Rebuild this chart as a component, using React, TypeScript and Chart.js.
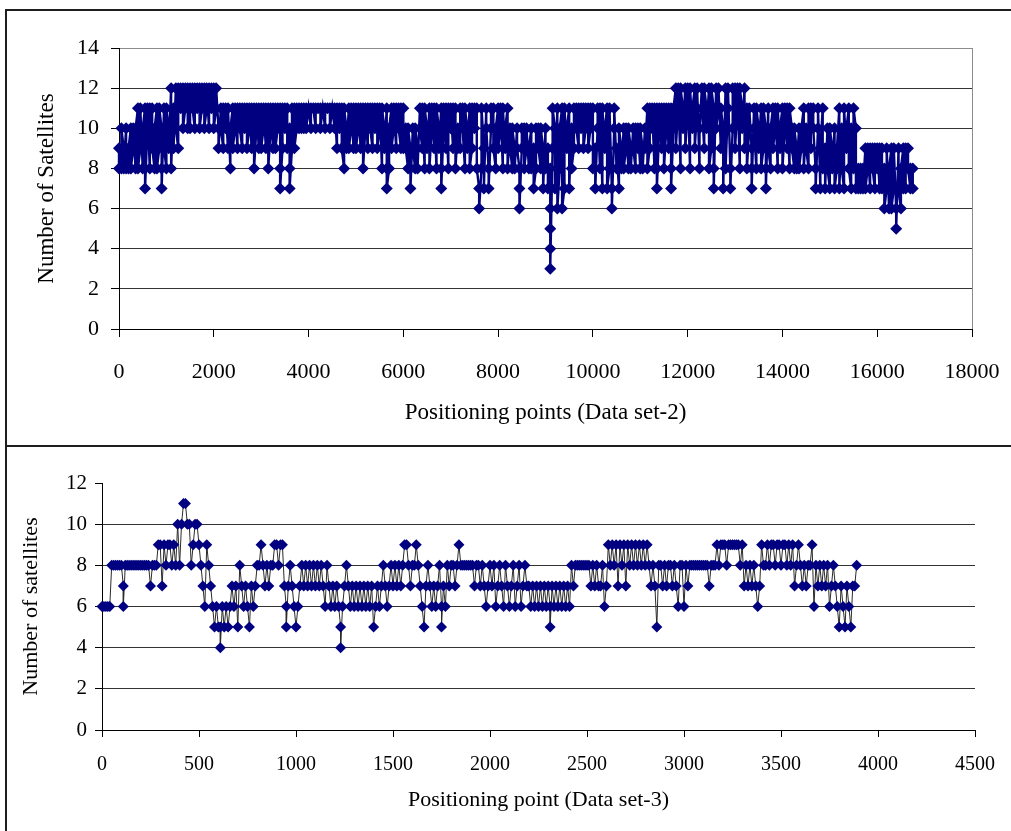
import React, { useEffect, useRef } from 'react';
import { Chart, registerables } from 'chart.js';

Chart.register(...registerables);

// ---------- Data set-2 (top chart): number of satellites ----------
// One entry per TOP_STEP positioning points; an entry that is a list holds the readings
// taken inside that stretch, in order (drawn at the same x, as in the dense original).
type V = number | number[];
const TOP_STEP = 50;
const set2AStart = 0;
const set2A: V[] = [
  [9, 8], [8, 10], [9, 8], [10, 8], [8, 9], [10, 8], [9, 10], [8, 10], [11, 8], [9, 11],
  [8, 10], [11, 8, 7], [10, 11], [8, 11], [11, 9], [8, 10], [11, 8], [9, 11], [10, 8, 7], [11, 9],
  [8, 11], [10, 9], [12, 8], [11, 9], [12, 10], [9, 12], [11, 12], [12, 10], [11, 12], [12, 10],
  [10, 12], [12, 11], [10, 12], [11, 12], [12, 10], [11, 12], [12, 10], [11, 12], [10, 12], [12, 11],
  [12, 10], [11, 12], [10, 9], [11, 10], [9, 11], [10, 11], [9, 11], [8, 10], [11, 9], [10, 11],
  [9, 11], [11, 10], [9, 11], [10, 11], [11, 9], [10, 11], [9, 11], [11, 8], [10, 11], [9, 11],
  [11, 9], [10, 11], [9, 11], [11, 8], [10, 11], [9, 11], [11, 9], [10, 11], [11, 8, 7], [9, 11],
  [10, 11], [11, 9], [10, 8, 7], [9, 11], [11, 9], [10, 11], [11, 10], [10, 11], [11, 10], [11, 10],
  11, [10, 11], 11, [10, 11], 11, [11, 10], 11, [10, 11], 11, [11, 10],
  11, [10, 11], [9, 11], [10, 11], [11, 9], [8, 11], [10, 9], [11, 9], [10, 11], [9, 11],
  [11, 9], [10, 11], [9, 11], [11, 8], [10, 11], [9, 11], [11, 10], [9, 11], [10, 11], [11, 9],
  [10, 11], [8, 11], [10, 9], [11, 8, 7], [8, 10], [11, 9], [10, 11], [9, 11], [11, 10], [9, 11],
];
const set2BStart = 6000;
const set2B: V[] = [
  [11, 9], [10, 9], [8, 10], [9, 8, 7], [10, 9], [8, 10], [9, 8], [11, 10], [9, 11], [8, 11],
  [10, 9], [11, 8], [10, 11], [9, 11], [8, 11], [10, 9], [11, 8, 7], [10, 11], [9, 11], [8, 11],
  [10, 11], [9, 11], [11, 8], [10, 9], [9, 11], [11, 10], [8, 11], [10, 9], [11, 8], [9, 11],
  [10, 11], [11, 8], [7, 6], [8, 11], [9, 7], [11, 10], [8, 7], [10, 11], [11, 9], [8, 10],
  [11, 9], [10, 11], [8, 11], [9, 10], [11, 8], [10, 9], [8, 10], [9, 8], [10, 9], [8, 7, 6],
  [9, 10], [10, 8], [9, 10], [8, 9], [10, 8], [9, 7], [8, 10], [10, 9], [8, 10], [9, 7],
  [10, 8], [9, 7], [8, 6, 5, 4, 3], [9, 11], [10, 7], [11, 6], [8, 10], [11, 6], [7, 11], [9, 10],
  [11, 7], [10, 8], [9, 11], [11, 10], [9, 11], [10, 11], [11, 9], [10, 11], [11, 9], [10, 11],
  [11, 8], [9, 7], [10, 11], [8, 11], [7, 11], [9, 10], [11, 7], [8, 11], [7, 6], [10, 11],
  [8, 9], [7, 10], [9, 8], [10, 8], [9, 10], [8, 10], [9, 8], [10, 9], [8, 10], [9, 10],
  [8, 10], [9, 8], [10, 9], [11, 8], [9, 11], [10, 11], [8, 11], [11, 8, 7], [10, 11], [9, 11],
  [11, 8], [10, 11], [9, 11], [11, 8, 7], [10, 11], [12, 9], [11, 12], [8, 12], [11, 10], [12, 9],
];
const set2CStart = 12000;
const set2C: V[] = [
  [11, 12], [8, 12], [10, 11], [12, 9], [11, 12], [8, 10], [12, 11], [9, 12], [11, 10], [12, 8],
  [9, 12], [11, 8, 7], [12, 10], [11, 12], [9, 11], [10, 7], [12, 8], [11, 12], [8, 7], [10, 12],
  [12, 9], [11, 12], [8, 12], [11, 10], [12, 9], [11, 8], [10, 11], [9, 8, 7], [11, 10], [8, 11],
  [10, 9], [11, 8], [9, 11], [10, 8, 7], [11, 9], [8, 10], [11, 9], [10, 11], [8, 11], [9, 10],
  [11, 8], [10, 11], [9, 11], [8, 11], [10, 9], [8, 10], [9, 8], [10, 8], [9, 10], [11, 8],
  [10, 9], [8, 11], [9, 11], [11, 10], [8, 7], [10, 11], [7, 9], [11, 8], [9, 7], [10, 8],
  [7, 10], [9, 8], [10, 7], [8, 9], [11, 7], [10, 8], [7, 11], [9, 10], [11, 8], [7, 10],
  [8, 11], [10, 7], [8, 7], [7, 8], [8, 7], [9, 7], [8, 9], [7, 9], [9, 8], [7, 9],
  [8, 9], [7, 9], [9, 7], [8, 6], [7, 9], [6, 8], [9, 6], [7, 9], [6, 5], [9, 7],
  [6, 8], [9, 7], [7, 9], [9, 8], [7, 8], [8, 7],
];

// ---------- Data set-3 (bottom chart), one entry every BOTTOM_STEP points ----------
const BOTTOM_STEP = 10;
const set3AStart = 0;
const set3A: V[] = [
  6, 6, 6, 6, 6, 8, 8, 8, 8, 8,
  8, [7, 6], 8, 8, 8, 8, 8, 8, 8, 8,
  8, 8, 8, 8, 8, 7, 8, 8, 8, 9,
  9, 7, 9, 8, 9, 9, 8, 9, 8, 10,
  8, 10, 11, 11, 10, 10, 8, 9, 10, 10,
  9, 8, 7, 6, 9, 8, 7, 6, 5, 6,
  5, [5, 4], 6, 5, 6, 5, 6, 7, 6, 7,
  5, 8, 7, 6, 7, 6, 5, 7, 6, 7,
  8, 8, 9, 8, 7, 8, 7, 8, 8, 9,
  9, 8, 9, 9, 7, [6, 5], 7, 8, 7, 6,
];
const set3BStart = 1000;
const set3B: V[] = [
  5, 6, 7, 8, 7, 8, 7, 8, 7, 8,
  7, 8, 7, 8, 7, 6, 8, 7, 6, 7,
  6, 7, 6, [5, 4], 6, 7, 8, 7, 6, 7,
  6, 7, 6, 7, 6, 7, 6, 7, 6, 7,
  5, 6, 7, 6, 7, 8, 7, 6, 7, 8,
  7, 8, 7, 8, 7, 8, 9, 9, 8, 7,
  8, 8, 9, 8, 7, 6, 5, 7, 8, 7,
  6, 7, 6, 7, 8, [6, 5], 7, 6, 8, 7,
  8, 8, 7, 8, 9, 8, 8, 8, 8, 8,
  8, 8, 7, 8, 8, 7, 8, 7, 6, 7,
];
const set3CStart = 2000;
const set3C: V[] = [
  8, 7, 8, 6, 7, 8, 7, 6, 8, 7,
  6, 7, 8, 6, 7, 8, 6, 7, 8, 7,
  7, 6, 7, 6, 7, 6, 7, 6, 7, 6,
  7, [6, 5], 7, 6, 7, 6, 7, 6, 7, 6,
  7, 6, 8, 7, 8, 8, 8, 8, 8, 8,
  8, 8, 7, 8, 7, 8, 7, 7, 8, 6,
  7, 9, 8, 9, 8, 9, 7, 9, 8, 9,
  7, 9, 8, 9, 8, 9, 8, 9, 8, 9,
  8, 9, 8, 7, 8, 7, 5, 8, 8, 7,
  8, 7, 8, 8, 7, 8, 7, 6, 8, 8,
];
const set3DStart = 3000;
const set3D: V[] = [
  6, 8, 7, 8, 8, 8, 8, 8, 8, 8,
  8, 8, 8, 7, 8, 8, 8, 9, 8, 9,
  9, 9, 8, 9, 9, 9, 9, 9, 9, 8,
  9, 7, 8, 7, 8, 7, 8, 7, 6, 7,
  9, 8, 8, 9, 8, 9, 9, 8, 9, 9,
  8, 9, 9, 8, 9, 8, 9, 7, 8, 9,
  8, 7, 8, 7, 8, 8, 9, 6, 8, 7,
  8, 7, 8, 7, 8, 6, 7, 8, 7, 6,
  5, 7, 6, 5, 7, 6, 5, 7, 7, 8,
];

// ---------- axes ----------
const topXTicks = [0, 2000, 4000, 6000, 8000, 10000, 12000, 14000, 16000, 18000];
const topYTicks = [0, 2, 4, 6, 8, 10, 12, 14];
const bottomXTicks = [0, 500, 1000, 1500, 2000, 2500, 3000, 3500, 4000, 4500];
const bottomYTicks = [0, 2, 4, 6, 8, 10, 12];

const topTitleX = 'Positioning points (Data set-2)';
const topTitleY = 'Number of Satellites';
const bottomTitleX = 'Positioning point (Data set-3)';
const bottomTitleY = 'Number of satellites';

// ---------- helpers ----------
function toPoints(segments: [number, V[]][], step: number) {
  const pts: { x: number; y: number }[] = [];
  segments.forEach(([start, values]) => {
    values.forEach((v, i) => {
      const x = start + i * step;
      (Array.isArray(v) ? v : [v]).forEach((y) => pts.push({ x, y }));
    });
  });
  return pts;
}

const NAVY = '#000080';
const FAMILY = "'Liberation Serif', 'Times New Roman', serif";

interface Spec {
  points: { x: number; y: number }[];
  xTicks: number[];
  yTicks: number[];
  titleX: string;
  titleY: string;
  padding: { left: number; top: number; right: number; bottom: number };
  yWidth: number;
  xHeight: number;
  tickLen: number;
  yTickPad: number;
  xTickPad: number;
  xTickLineHeight: string;
  yTickSize: number;
  xTickSize: number;
  titleSize: number;
  lineColor: string;
  lineWidth: number;
  markerRadius: number;
  frame: boolean;
}

function makeConfig(s: Spec): any {
  const xMax = s.xTicks[s.xTicks.length - 1];
  const yMax = s.yTicks[s.yTicks.length - 1];
  return {
    type: 'scatter',
    data: {
      datasets: [
        {
          data: s.points,
          showLine: true,
          borderColor: s.lineColor,
          borderWidth: s.lineWidth,
          tension: 0,
          pointStyle: 'rectRot',
          pointRadius: s.markerRadius,
          pointBackgroundColor: NAVY,
          pointBorderColor: NAVY,
          pointBorderWidth: 0,
          clip: false,
        },
      ],
    },
    options: {
      animation: false,
      responsive: false,
      events: [],
      layout: { padding: s.padding },
      plugins: { legend: { display: false }, tooltip: { enabled: false } },
      scales: {
        x: {
          type: 'linear',
          min: s.xTicks[0],
          max: xMax,
          afterBuildTicks: (scale: any) => {
            scale.ticks = s.xTicks.map((v) => ({ value: v }));
          },
          ticks: {
            callback: (v: any) => String(v),
            font: { family: FAMILY, size: s.xTickSize, lineHeight: s.xTickLineHeight },
            color: '#000',
            padding: s.xTickPad,
            maxRotation: 0,
            autoSkip: false,
          },
          grid: {
            color: (ctx: any) =>
              s.frame && ctx.tick && ctx.tick.value === xMax ? '#8c8c8c' : 'rgba(0,0,0,0)',
            tickColor: '#000',
            tickLength: s.tickLen,
            lineWidth: 1,
          },
          border: { color: '#000', width: 1 },
          title: {
            display: true,
            text: s.titleX,
            font: { family: FAMILY, size: s.titleSize },
            color: '#000',
            padding: 0,
          },
          afterFit: (scale: any) => {
            scale.height = s.xHeight;
          },
        },
        y: {
          type: 'linear',
          min: s.yTicks[0],
          max: yMax,
          afterBuildTicks: (scale: any) => {
            scale.ticks = s.yTicks.map((v) => ({ value: v }));
          },
          ticks: {
            callback: (v: any) => String(v),
            font: { family: FAMILY, size: s.yTickSize },
            color: '#000',
            padding: s.yTickPad,
            autoSkip: false,
          },
          grid: {
            color: (ctx: any) => {
              const v = ctx.tick ? ctx.tick.value : 0;
              if (v === yMax) return s.frame ? '#8c8c8c' : 'rgba(0,0,0,0)';
              return '#333333';
            },
            tickColor: '#000',
            tickLength: s.tickLen,
            lineWidth: 1,
          },
          border: { color: '#000', width: 1 },
          title: {
            display: true,
            text: s.titleY,
            font: { family: FAMILY, size: s.titleSize },
            color: '#000',
            padding: 0,
          },
          afterFit: (scale: any) => {
            scale.width = s.yWidth;
          },
        },
      },
    },
  };
}

function ChartCanvas({ spec, width, height, top }: { spec: Spec; width: number; height: number; top: number }) {
  const ref = useRef<HTMLCanvasElement | null>(null);
  useEffect(() => {
    if (!ref.current) return;
    const chart = new Chart(ref.current, makeConfig(spec));
    return () => chart.destroy();
  }, []);
  return (
    <canvas
      ref={ref}
      width={width}
      height={height}
      style={{ position: 'absolute', left: 0, top, width, height }}
    />
  );
}

const topSpec: Spec = {
  points: toPoints(
    [
      [set2AStart, set2A],
      [set2BStart, set2B],
      [set2CStart, set2C],
    ],
    TOP_STEP
  ),
  xTicks: topXTicks,
  yTicks: topYTicks,
  titleX: topTitleX,
  titleY: topTitleY,
  padding: { left: 33, top: 48, right: 39, bottom: 19 },
  yWidth: 86,
  xHeight: 98,
  tickLen: 8,
  yTickPad: 12,
  xTickPad: 3,
  xTickLineHeight: '64px',
  yTickSize: 22,
  xTickSize: 22,
  titleSize: 23,
  lineColor: NAVY,
  lineWidth: 2.4,
  markerRadius: 6,
  frame: true,
};

const bottomSpec: Spec = {
  points: toPoints(
    [
      [set3AStart, set3A],
      [set3BStart, set3B],
      [set3CStart, set3C],
      [set3DStart, set3D],
    ],
    BOTTOM_STEP
  ),
  xTicks: bottomXTicks,
  yTicks: bottomYTicks,
  titleX: bottomTitleX,
  titleY: bottomTitleY,
  padding: { left: 18, top: 37, right: 36, bottom: 18 },
  yWidth: 84,
  xHeight: 83,
  tickLen: 7,
  yTickPad: 8,
  xTickPad: 3,
  xTickLineHeight: '50px',
  yTickSize: 21,
  xTickSize: 20,
  titleSize: 22,
  lineColor: '#2b2b2b',
  lineWidth: 1,
  markerRadius: 5.5,
  frame: false,
};

export default function App() {
  const line = '#1e1e1e';
  return (
    <div style={{ position: 'absolute', left: 0, top: 0, width: 1011, height: 831, background: '#fff', overflow: 'hidden' }}>
      <ChartCanvas spec={topSpec} width={1011} height={446} top={0} />
      <ChartCanvas spec={bottomSpec} width={1011} height={385} top={446} />
      <div style={{ position: 'absolute', left: 5, top: 9, width: 1006, height: 2, background: line }} />
      <div style={{ position: 'absolute', left: 5, top: 445, width: 1006, height: 2, background: line }} />
      <div style={{ position: 'absolute', left: 5, top: 9, width: 2, height: 822, background: line }} />
    </div>
  );
}
